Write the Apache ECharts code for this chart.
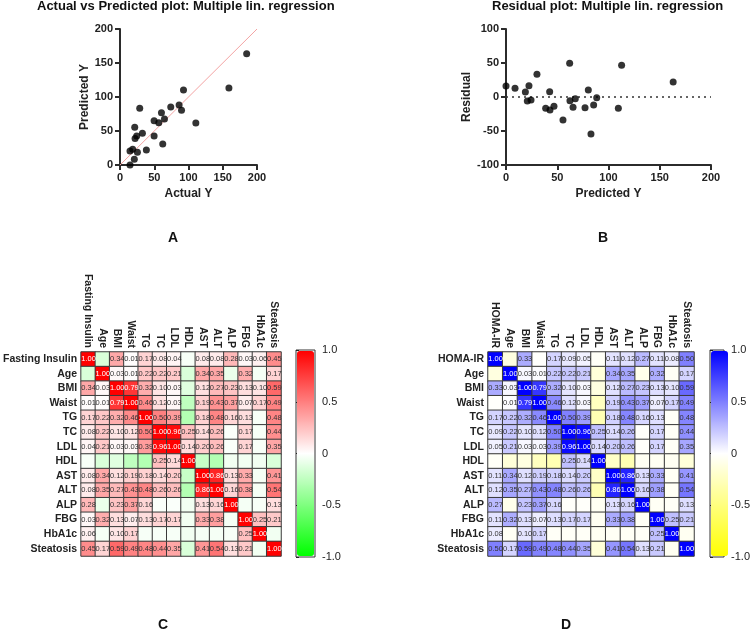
<!DOCTYPE html>
<html>
<head>
<meta charset="utf-8">
<script src="https://cdn.jsdelivr.net/npm/echarts@6/dist/echarts.min.js"></script>
<style>html,body{margin:0;padding:0;background:#fff}#c{width:753px;height:638px}</style>
</head>
<body>
<div id="c"></div>
<script>
// ---- Panel A data ----
const actualY    = [14.6, 20.9, 14.6, 18.5, 25.4, 21.5, 22.0, 24.4, 32.7, 28.8, 38.5, 49.8, 49.8, 56.6, 62.4, 60.5, 64.9, 74.1, 86.3, 89.8, 92.7, 110.7, 159.0, 184.9];
const predictedY = [0.0, 8.3, 20.6, 23.0, 18.6, 55.4, 39.0, 42.6, 46.6, 83.3, 22.0, 42.6, 65.2, 62.3, 30.9, 77.0, 67.6, 85.3, 88.2, 80.4, 110.3, 61.8, 113.2, 163.7];
const identityLine = [[0, 0], [200, 200]];
// ---- Panel B data ----
const residPredicted = [0.0, 8.8, 18.9, 20.8, 22.4, 24.4, 30.2, 38.7, 42.6, 42.9, 46.8, 55.6, 62.1, 62.4, 65.4, 67.6, 77.1, 80.3, 82.9, 85.5, 88.5, 109.6, 112.8, 163.1];
const residuals      = [16.2, 12.7, 7.4, -5.9, 16.7, -4.4, 33.3, -16.7, 7.8, -19.1, -13.7, -33.8, 49.5, -5.4, -15.2, -2.5, -15.7, 10.3, -54.4, -11.8, -1.0, -16.7, 46.6, 22.1];
const zeroLine = [[0, 0], [200, 0]];
// ---- Heatmap data ----
const varsC = ['Fasting Insulin','Age','BMI','Waist','TG','TC','LDL','HDL','AST','ALT','ALP','FBG','HbA1c','Steatosis'];
const varsD = ['HOMA-IR','Age','BMI','Waist','TG','TC','LDL','HDL','AST','ALT','ALP','FBG','HbA1c','Steatosis'];
const corrC = [
  [1.00,-0.15,0.34,0.01,0.17,0.08,0.04,-0.03,0.08,0.08,0.28,0.03,0.06,0.45],
  [-0.15,1.00,0.03,0.01,0.22,0.22,0.21,-0.15,0.34,0.35,-0.08,0.32,-0.04,0.17],
  [0.34,0.03,1.00,0.79,0.32,0.10,0.03,-0.12,0.12,0.27,0.23,0.13,0.10,0.59],
  [0.01,0.01,0.79,1.00,0.46,0.12,0.03,-0.25,0.19,0.43,0.37,0.07,0.17,0.49],
  [0.17,0.22,0.32,0.46,1.00,0.50,0.39,-0.30,0.18,0.48,0.16,0.13,-0.03,0.48],
  [0.08,0.22,0.10,0.12,0.50,1.00,0.96,0.25,0.14,0.26,-0.02,0.17,-0.03,0.44],
  [0.04,0.21,0.03,0.03,0.39,0.96,1.00,0.14,0.20,0.26,-0.02,0.17,-0.03,0.35],
  [-0.03,-0.15,-0.12,-0.25,-0.30,0.25,0.14,1.00,-0.22,-0.30,-0.05,-0.05,-0.05,-0.15],
  [0.08,0.34,0.12,0.19,0.18,0.14,0.20,-0.22,1.00,0.86,0.13,0.33,-0.04,0.41],
  [0.08,0.35,0.27,0.43,0.48,0.26,0.26,-0.30,0.86,1.00,0.16,0.38,-0.04,0.54],
  [0.28,-0.08,0.23,0.37,0.16,-0.02,-0.02,-0.05,0.13,0.16,1.00,-0.04,-0.03,0.13],
  [0.03,0.32,0.13,0.07,0.13,0.17,0.17,-0.05,0.33,0.38,-0.04,1.00,0.25,0.21],
  [0.06,-0.04,0.10,0.17,-0.03,-0.03,-0.03,-0.05,-0.04,-0.04,-0.03,0.25,1.00,-0.05],
  [0.45,0.17,0.59,0.49,0.48,0.44,0.35,-0.15,0.41,0.54,0.13,0.21,-0.05,1.00]
];
const homaCorr = [1.00,-0.12,0.33,-0.01,0.17,0.09,0.05,-0.03,0.11,0.12,0.27,0.11,0.08,0.50];

const FF = '"Liberation Sans", Arial, sans-serif';
const corrD = corrC.map((row, i) => row.map((v, j) => i === 0 ? homaCorr[j] : (j === 0 ? homaCorr[i] : v)));

function heatData(m) {
  const out = [];
  m.forEach((row, i) => row.forEach((v, j) => {
    out.push({ value: [j, i, v], label: { color: v >= 0.75 ? '#ffffff' : '#333333' } });
  }));
  return out;
}

const axisLineStyle = { lineStyle: { color: '#2b2b2b', width: 2 } };
const tickStyle = { show: true, length: 5, lineStyle: { color: '#2b2b2b', width: 2 } };
const tickLabel = { fontFamily: FF, fontWeight: 'bold', fontSize: 11, color: '#222', margin: 7 };
const nameStyle = { fontFamily: FF, fontWeight: 'bold', fontSize: 12, color: '#222' };

const chart = echarts.init(document.getElementById('c'), null, { renderer: 'canvas' });

function scatterAxes(gi, xmin, xmax, ymin, ymax, xname, yname, ygap) {
  return {
    x: { gridIndex: gi, type: 'value', min: xmin, max: xmax, interval: 50, name: xname, nameLocation: 'middle', nameGap: 23, nameTextStyle: nameStyle,
         axisLine: Object.assign({ onZero: false }, axisLineStyle), axisTick: tickStyle, axisLabel: tickLabel, splitLine: { show: false } },
    y: { gridIndex: gi, type: 'value', min: ymin, max: ymax, interval: 50, name: yname, nameLocation: 'middle', nameGap: ygap, nameTextStyle: nameStyle,
         axisLine: Object.assign({ onZero: false }, axisLineStyle), axisTick: tickStyle, axisLabel: tickLabel, splitLine: { show: false } }
  };
}
const aAx = scatterAxes(0, 0, 200, 0, 200, 'Actual Y', 'Predicted Y', 28);
const bAx = scatterAxes(1, 0, 200, -100, 100, 'Predicted Y', 'Residual', 33);

function heatAxes(gi, vars) {
  return {
    x: { gridIndex: gi, type: 'category', data: vars, position: 'top', axisLine: { show: false }, axisTick: { show: false }, splitLine: { show: false },
         axisLabel: { rotate: 90, margin: 4, fontFamily: FF, fontWeight: 'bold', fontSize: 10.5, color: '#222', interval: 0 } },
    y: { gridIndex: gi, type: 'category', data: vars, inverse: true, axisLine: { show: false }, axisTick: { show: false }, splitLine: { show: false },
         axisLabel: { margin: 4, fontFamily: FF, fontWeight: 'bold', fontSize: 10.5, color: '#222', interval: 0 } }
  };
}
const cAx = heatAxes(2, varsC);
const dAx = heatAxes(3, varsD);

function cbAxes(gi) {
  return {
    x: { gridIndex: gi, type: 'value', show: false, min: 0, max: 1 },
    y: { gridIndex: gi, type: 'value', min: -1, max: 1, interval: 0.5, position: 'right',
         axisLine: { show: false }, splitLine: { show: false },
         axisTick: { show: true, length: 3, lineStyle: { color: '#222', width: 1 } },
         axisLabel: { margin: 7, fontFamily: FF, fontSize: 11, color: '#222', formatter: v => (v === 0 ? '0' : v.toFixed(1)) } },
    yl: { gridIndex: gi, type: 'value', min: -1, max: 1, interval: 0.5, position: 'left',
         axisLine: { show: false }, splitLine: { show: false }, axisLabel: { show: false },
         axisTick: { show: true, inside: true, length: 3, lineStyle: { color: '#222', width: 1 } } }
  };
}
const cbC = cbAxes(4);
const cbD = cbAxes(5);

const heatLabel = { show: true, position: [1, '50%'], align: 'left', verticalAlign: 'middle', fontFamily: FF, fontSize: 7.5,
  formatter: p => (p.value[2] > 0 ? p.value[2].toFixed(2) : '') };

const titleText = (text, left, top, size) => ({ text, left, top, padding: 0, textStyle: { fontFamily: FF, fontWeight: 'bold', fontSize: size, color: '#111' } });

chart.setOption({
  animation: false,
  title: [
    titleText('Actual vs Predicted plot: Multiple lin. regression', 37, 0, 13),
    titleText('Residual plot: Multiple lin. regression', 492, 0, 13),
    titleText('A', 168, 231, 14),
    titleText('B', 598, 231, 14),
    titleText('C', 158, 618, 14),
    titleText('D', 561, 618, 14)
  ],
  grid: [
    { left: 120, top: 29, width: 137, height: 136 },
    { left: 506, top: 29, width: 205, height: 136 },
    { left: 75, top: 352, width: 206, height: 204 },
    { left: 488, top: 352, width: 206, height: 204 },
    { left: 296, top: 350, width: 19, height: 207, show: true, borderColor: '#333', borderWidth: 1 },
    { left: 710, top: 350, width: 19, height: 207, show: true, borderColor: '#333', borderWidth: 1 }
  ],
  xAxis: [aAx.x, bAx.x, cAx.x, dAx.x, cbC.x, cbD.x],
  yAxis: [aAx.y, bAx.y, cAx.y, dAx.y, cbC.y, cbD.y, cbC.yl, cbD.yl],
  visualMap: [
    { type: 'continuous', seriesIndex: 4, min: -1, max: 1, calculable: false, text: ['', ''], padding: 0, itemWidth: 17, itemHeight: 205,
      left: 297, top: 351, inRange: { color: ['#00ff00', '#ffffff', '#ff0000'] } },
    { type: 'continuous', seriesIndex: 5, min: -1, max: 1, calculable: false, text: ['', ''], padding: 0, itemWidth: 17, itemHeight: 205,
      left: 711, top: 351, inRange: { color: ['#ffff00', '#ffffff', '#0000ff'] } }
  ],
  series: [
    { type: 'line', xAxisIndex: 0, yAxisIndex: 0, data: identityLine, symbol: 'none', lineStyle: { color: '#f3a3a3', width: 1 }, z: 1 },
    { type: 'scatter', xAxisIndex: 0, yAxisIndex: 0, data: actualY.map((a, i) => [a, predictedY[i]]), symbolSize: 7, itemStyle: { color: '#000' }, z: 3 },
    { type: 'line', xAxisIndex: 1, yAxisIndex: 1, data: zeroLine, symbol: 'none', lineStyle: { color: '#333', width: 1.5, type: [2, 4] }, z: 1 },
    { type: 'scatter', xAxisIndex: 1, yAxisIndex: 1, data: residPredicted.map((p, i) => [p, residuals[i]]), symbolSize: 7, itemStyle: { color: '#000' }, z: 3 },
    { type: 'heatmap', xAxisIndex: 2, yAxisIndex: 2, data: heatData(corrC), itemStyle: { borderColor: '#3a3a3a', borderWidth: 1 }, label: heatLabel },
    { type: 'heatmap', xAxisIndex: 3, yAxisIndex: 3, data: heatData(corrD), itemStyle: { borderColor: '#3a3a3a', borderWidth: 1 }, label: heatLabel }
  ]
});
</script>
</body>
</html>
